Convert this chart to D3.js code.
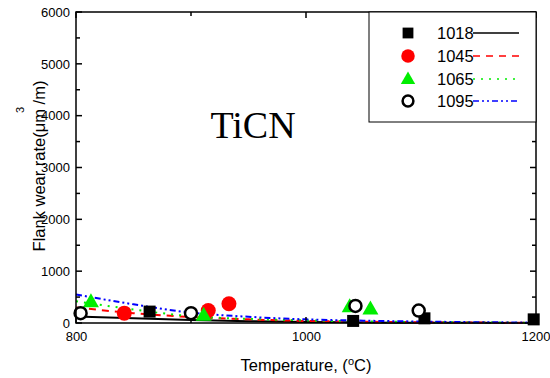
<!DOCTYPE html>
<html><head><meta charset="utf-8">
<script src="https://cdn.jsdelivr.net/npm/d3@7"></script>
<style>body{margin:0;background:#fff}svg{display:block}</style>
</head><body><svg id="c" width="550" height="378"></svg>
<script>
// ---- data ----
const seriesNames = ["1018", "1045", "1065", "1095"];
const xTicks = [800, 1000, 1200];
const xMinorTicks = [900, 1100];
const yTicks = [0, 1000, 2000, 3000, 4000, 5000, 6000];
const yMinorTicks = [500, 1500, 2500, 3500, 4500, 5500];

const pts1018 = [[864, 220], [1041, 40], [1103, 90], [1198, 70]];
const pts1045 = [[842, 190], [915, 240], [933, 370]];
const pts1065 = [[813, 410], [911, 150], [1038, 315], [1056, 270]];
const pts1095 = [[804, 190], [900, 190], [1043, 330], [1098, 240]];

const fitTemps = [800, 850, 900, 950, 1000, 1050, 1100, 1150, 1200];
const fit1018 = [125, 90, 60, 35, 20, 10, 5, 3, 2];
const fit1045 = [300, 190, 115, 70, 40, 25, 15, 8, 5];
const fit1065 = [420, 260, 130, 80, 50, 30, 18, 10, 6];
const fit1095 = [550, 360, 200, 120, 70, 45, 28, 15, 10];

// ---- layout ----
const svg = d3.select("#c");
const L = 76, R = 536, T = 12, B = 323;
const x = d3.scaleLinear().domain([800, 1200]).range([L, R]);
const y = d3.scaleLinear().domain([0, 6000]).range([B, T]);
const font = "Liberation Sans, Arial, sans-serif";
const tickFont = 13;

const styles = [
  {color: "#000", dash: null, marker: "square"},
  {color: "#ff0000", dash: "7,6", marker: "circle"},
  {color: "#00ee00", dash: "2,6", marker: "triangle"},
  {color: "#0000ff", dash: "6,3,2,3,2,3", marker: "open"}
];
const allPts = [pts1018, pts1045, pts1065, pts1095];
const allFits = [fit1018, fit1045, fit1065, fit1095];

// fits
const line = d3.line().x(d => x(d[0])).y(d => y(d[1])).curve(d3.curveMonotoneX);
allFits.forEach((f, i) => {
  svg.append("path").datum(fitTemps.map((t, k) => [t, f[k]]))
    .attr("d", line).attr("fill", "none")
    .attr("stroke", styles[i].color).attr("stroke-width", 2)
    .attr("stroke-dasharray", styles[i].dash);
});

function drawMarker(g, type, cx, cy, big) {
  const s = big ? 1 : 0.9;
  if (type === "square") {
    const w = 12 * s;
    g.append("rect").attr("x", cx - w / 2).attr("y", cy - w / 2).attr("width", w).attr("height", w).attr("fill", "#000");
  } else if (type === "circle") {
    g.append("circle").attr("cx", cx).attr("cy", cy).attr("r", 7.5 * s).attr("fill", "#ff0000");
  } else if (type === "triangle") {
    const h = 14 * s, w = 16 * s;
    g.append("path").attr("d", `M${cx},${cy - h * 0.6}L${cx + w / 2},${cy + h * 0.4}L${cx - w / 2},${cy + h * 0.4}Z`).attr("fill", "#00ee00");
  } else {
    g.append("circle").attr("cx", cx).attr("cy", cy).attr("r", 6 * s).attr("fill", "#fff").attr("stroke", "#000").attr("stroke-width", 2.5);
  }
}

const mg = svg.append("g");
allPts.forEach((ps, i) => {
  ps.forEach(p => drawMarker(mg, styles[i].marker, x(p[0]), y(p[1]), true));
});

// axes labels
const ax = svg.append("g");
const bottom = d3.axisBottom(x).tickValues(xTicks).tickSize(0).tickPadding(9).tickFormat(d3.format("d"));
const left = d3.axisLeft(y).tickValues(yTicks).tickSize(0).tickPadding(6).tickFormat(d3.format("d"));
const bx = ax.append("g").attr("transform", `translate(0,${B})`).call(bottom);
bx.select(".domain").remove();
bx.selectAll("text").attr("font-family", font).attr("font-size", tickFont).attr("fill", "#000")
  .attr("text-anchor", d => d === 1200 ? "end" : "middle").attr("dx", d => d === 1200 ? 14 : 0);
const ly = ax.append("g").attr("transform", `translate(${L},0)`).call(left);
ly.select(".domain").remove();
ly.selectAll("text").attr("font-family", font).attr("font-size", tickFont).attr("fill", "#000");

// frame and ticks
const fr = svg.append("g").attr("stroke", "#000").attr("stroke-width", 1.5);
fr.append("rect").attr("x", L).attr("y", T).attr("width", R - L).attr("height", B - T).attr("fill", "none");
yTicks.forEach(v => {
  fr.append("line").attr("x1", L).attr("x2", L + 6).attr("y1", y(v)).attr("y2", y(v));
  fr.append("line").attr("x1", R).attr("x2", R - 6).attr("y1", y(v)).attr("y2", y(v));
});
yMinorTicks.forEach(v => {
  fr.append("line").attr("x1", L).attr("x2", L + 4).attr("y1", y(v)).attr("y2", y(v));
  fr.append("line").attr("x1", R).attr("x2", R - 4).attr("y1", y(v)).attr("y2", y(v));
});
xTicks.forEach(v => {
  fr.append("line").attr("x1", x(v)).attr("x2", x(v)).attr("y1", B).attr("y2", B - 6);
  fr.append("line").attr("x1", x(v)).attr("x2", x(v)).attr("y1", T).attr("y2", T + 6);
});
xMinorTicks.forEach(v => {
  fr.append("line").attr("x1", x(v)).attr("x2", x(v)).attr("y1", B).attr("y2", B - 4);
  fr.append("line").attr("x1", x(v)).attr("x2", x(v)).attr("y1", T).attr("y2", T + 4);
});

// titles
const xt = svg.append("text").attr("x", 306).attr("y", 371).attr("text-anchor", "middle")
  .attr("font-family", font).attr("font-size", 16.5).attr("fill", "#000");
xt.append("tspan").text("Temperature, (");
xt.append("tspan").text("o").attr("font-size", 11).attr("dy", -6);
xt.append("tspan").text("C)").attr("dy", 6);

svg.append("text").attr("transform", "translate(45,166) rotate(-90)").attr("text-anchor", "middle")
  .attr("font-family", font).attr("font-size", 16.5).attr("fill", "#000")
  .text("Flank wear rate(\u03bcm /m)");
svg.append("text").attr("transform", "translate(24,110) rotate(-90)").attr("text-anchor", "middle")
  .attr("font-family", font).attr("font-size", 11).attr("fill", "#000").text("3");

svg.append("text").attr("x", 253).attr("y", 138).attr("text-anchor", "middle")
  .attr("font-family", "Liberation Serif, Times New Roman, serif").attr("font-size", 38).attr("fill", "#000").text("TiCN");

// legend
const lg = svg.append("g");
lg.append("rect").attr("x", 369).attr("y", 12).attr("width", 167).attr("height", 110)
  .attr("fill", "#fff").attr("stroke", "#000").attr("stroke-width", 1);
const rowY = [33, 56, 79, 101];
seriesNames.forEach((n, i) => {
  drawMarker(lg, styles[i].marker, 408, rowY[i], false);
  lg.append("line").attr("x1", 473).attr("x2", 519).attr("y1", rowY[i]).attr("y2", rowY[i])
    .attr("stroke", styles[i].color).attr("stroke-width", 1.5).attr("stroke-dasharray", styles[i].dash);
  lg.append("text").attr("x", 437).attr("y", rowY[i] + 6).attr("font-family", font).attr("font-size", 16.5)
    .attr("fill", "#000").text(n);
});
</script></body></html>
